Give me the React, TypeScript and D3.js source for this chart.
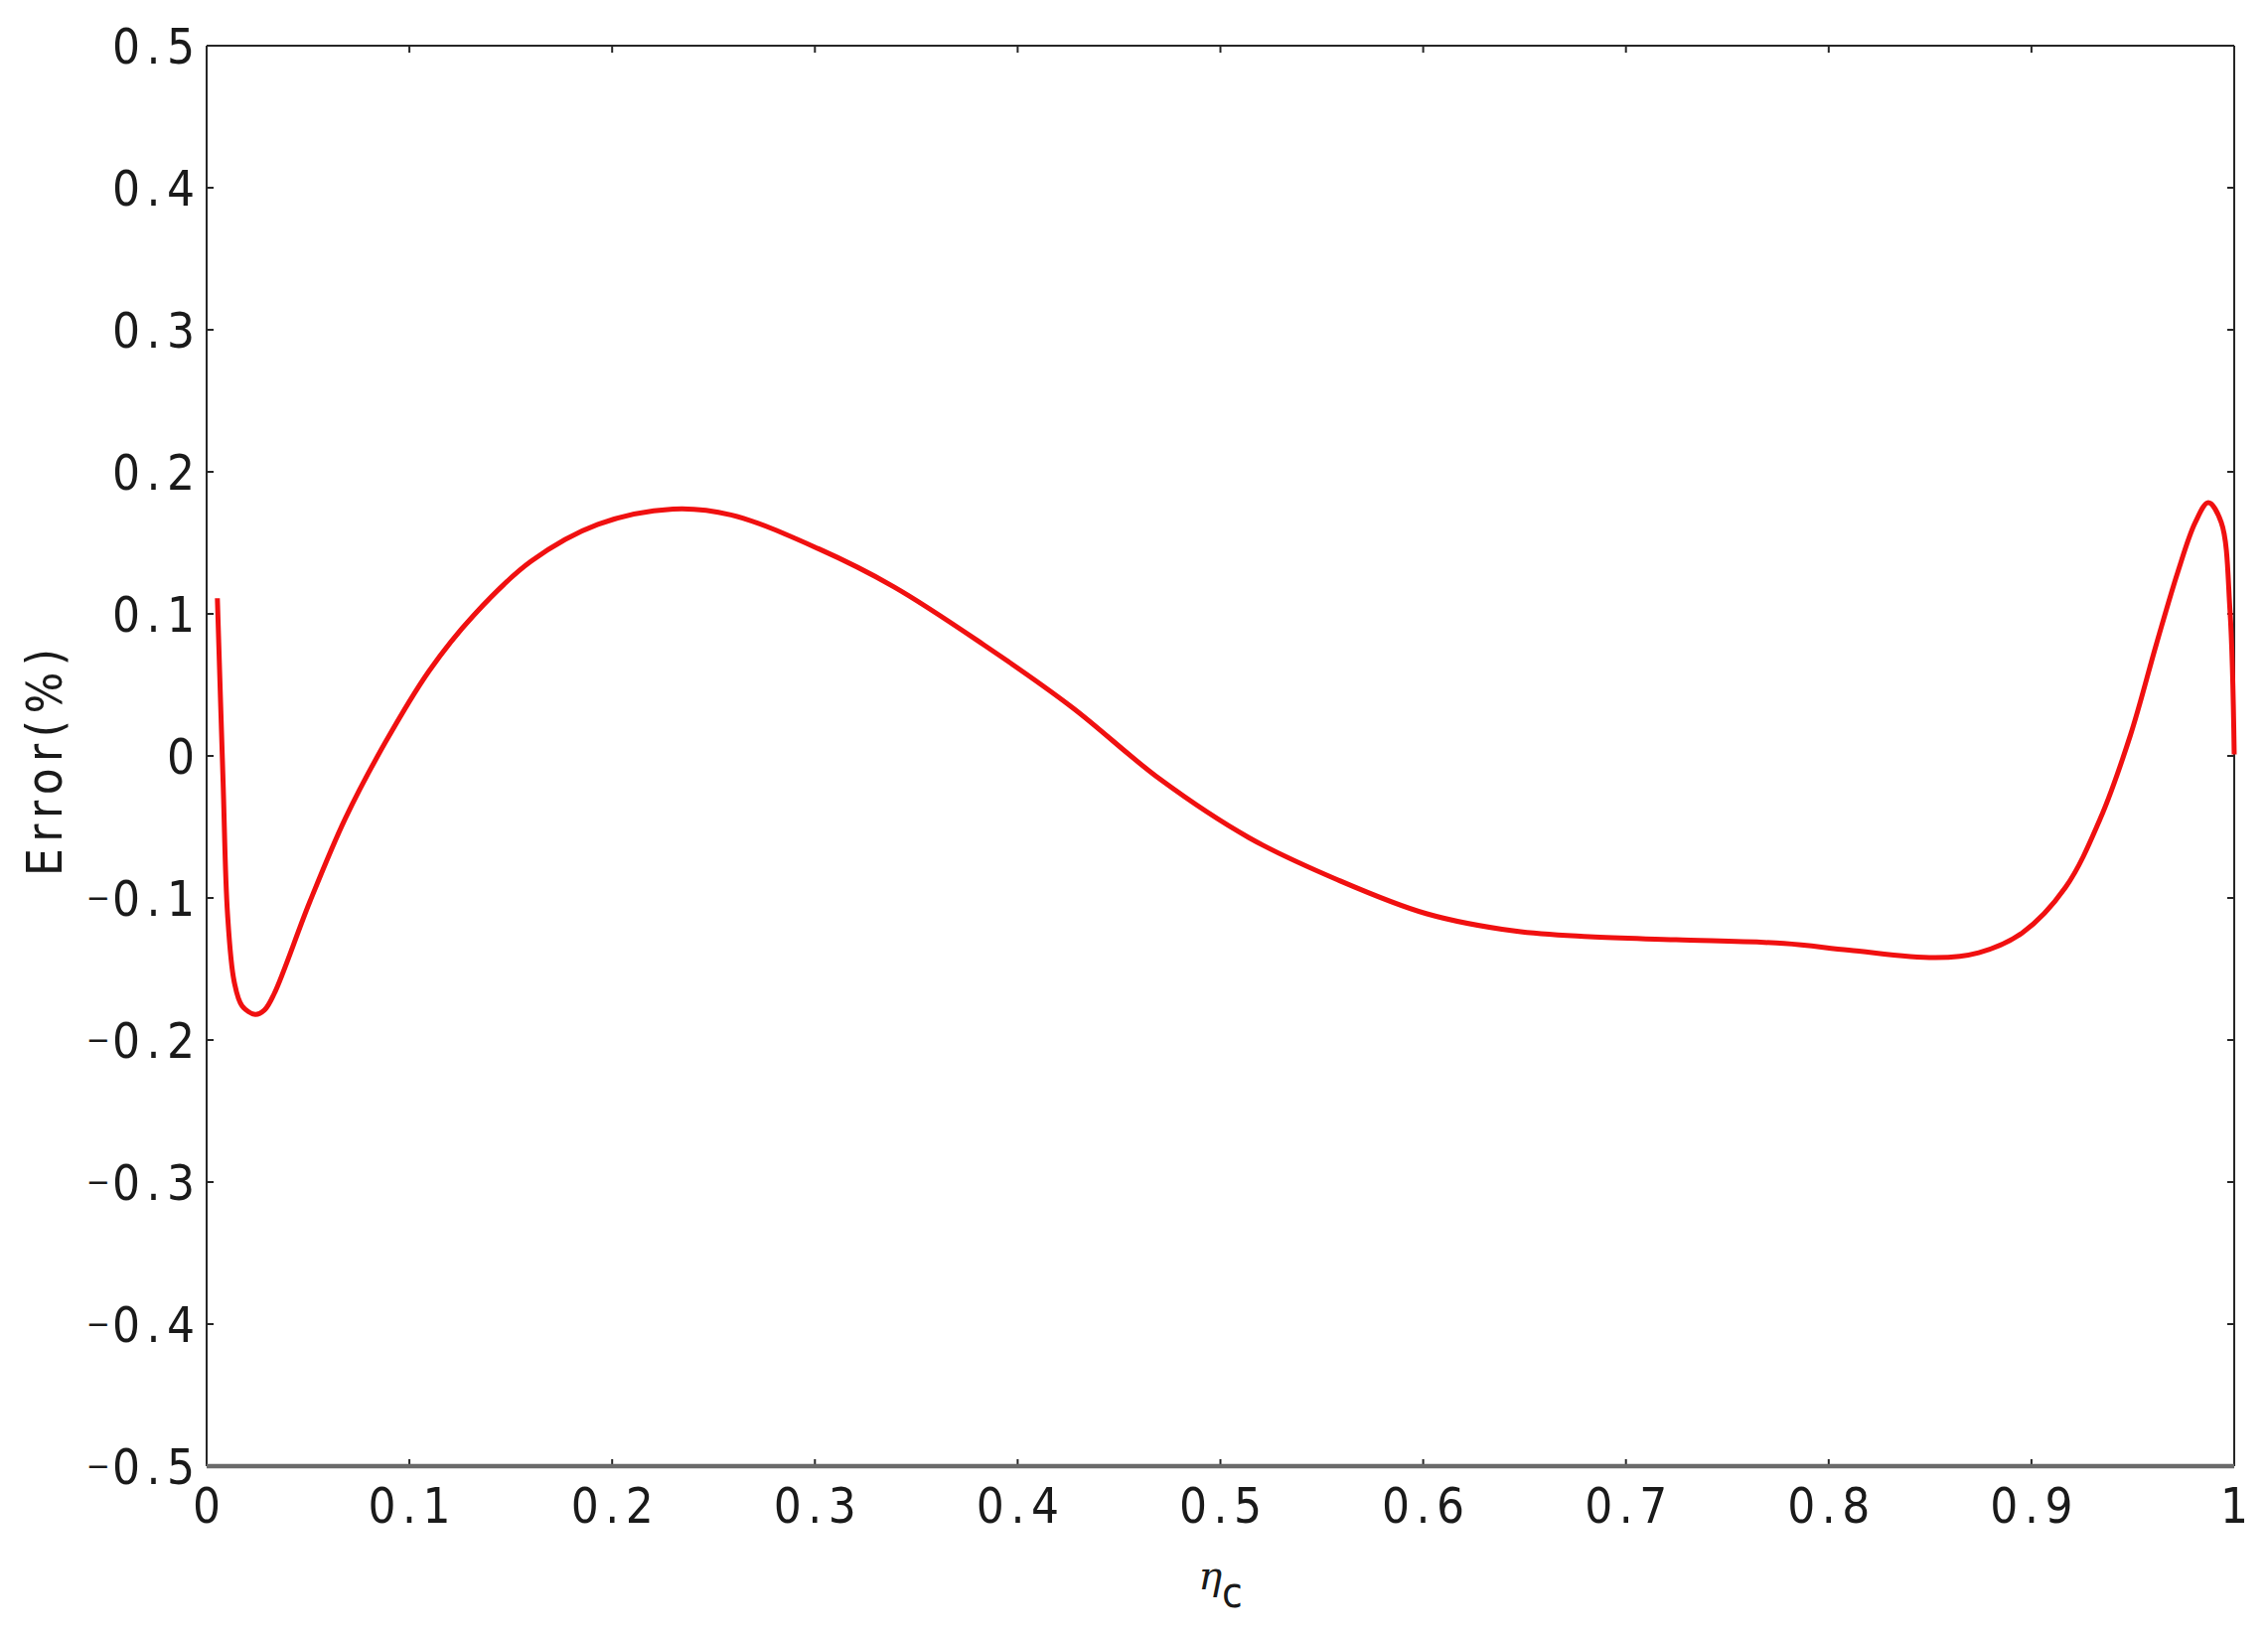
import React from "react";
import * as d3 from "d3";

const etaC = [0.0053, 0.0081, 0.0103, 0.0136, 0.0175, 0.024, 0.0285, 0.0333, 0.0508, 0.0683, 0.088, 0.1098, 0.1317, 0.16, 0.193, 0.23, 0.2586, 0.302, 0.339, 0.3828, 0.4266, 0.4703, 0.514, 0.5578, 0.6015, 0.6453, 0.682, 0.7247, 0.778, 0.81, 0.8527, 0.874, 0.8954, 0.9168, 0.9339, 0.9488, 0.9616, 0.9722, 0.9808, 0.9872, 0.9936, 0.9979, 1.0];
const errorPct = [0.111, -0.0175, -0.111, -0.159, -0.176, -0.182, -0.179, -0.1675, -0.103, -0.0443, 0.0092, 0.06, 0.099, 0.137, 0.163, 0.1738, 0.1697, 0.1457, 0.119, 0.0787, 0.0345, -0.0165, -0.0575, -0.0872, -0.111, -0.1233, -0.1273, -0.1294, -0.132, -0.1367, -0.142, -0.1385, -0.1246, -0.0925, -0.0443, 0.0146, 0.0787, 0.1296, 0.1644, 0.1783, 0.1644, 0.1028, 0.001];

const xTicks = [0, 0.1, 0.2, 0.3, 0.4, 0.5, 0.6, 0.7, 0.8, 0.9, 1];
const xTickLabels = ["0", "0.1", "0.2", "0.3", "0.4", "0.5", "0.6", "0.7", "0.8", "0.9", "1"];
const yTicks = [-0.5, -0.4, -0.3, -0.2, -0.1, 0, 0.1, 0.2, 0.3, 0.4, 0.5];
const yTickLabels = ["\u22120.5", "\u22120.4", "\u22120.3", "\u22120.2", "\u22120.1", "0", "0.1", "0.2", "0.3", "0.4", "0.5"];

const W = 2283;
const H = 1648;
const L = 208, R = 2249, T = 46, B = 1476;
const FONT = "'DejaVu Sans Condensed', 'DejaVu Sans', sans-serif";
const FS = 49;
const LS = 6.5;

function renderLabel(s: string) {
  if (s.startsWith("\u2212")) {
    return (
      <>
        <tspan fontSize={32} dy={-7} letterSpacing={2}>{"\u2212"}</tspan>
        <tspan dy={7}>{s.slice(1)}</tspan>
      </>
    );
  }
  return s;
}

export default function App() {
  const x = d3.scaleLinear().domain([0, 1]).range([L, R]);
  const y = d3.scaleLinear().domain([-0.5, 0.5]).range([B, T]);
  const pts: [number, number][] = etaC.map((v, i) => [v, errorPct[i]]);
  const line = d3
    .line<[number, number]>()
    .x((d) => x(d[0]))
    .y((d) => y(d[1]))
    .curve(d3.curveCatmullRom.alpha(0.5));
  const tickLen = 7;
  const dark = "#262626";
  return (
    <svg
      width={W}
      height={H}
      style={{ position: "absolute", left: 0, top: 0, background: "#fff" }}
      xmlns="http://www.w3.org/2000/svg"
    >
      <rect x={0} y={0} width={W} height={H} fill="#fff" />
      {xTicks.map((t, i) => (
        <g key={"xt" + i}>
          <line x1={x(t)} x2={x(t)} y1={B} y2={B - tickLen} stroke={dark} strokeWidth={2} />
          <line x1={x(t)} x2={x(t)} y1={T} y2={T + tickLen} stroke={dark} strokeWidth={2} />
        </g>
      ))}
      {yTicks.map((t, i) => (
        <g key={"yt" + i}>
          <line x1={L} x2={L + tickLen} y1={y(t)} y2={y(t)} stroke={dark} strokeWidth={2} />
          <line x1={R} x2={R - tickLen} y1={y(t)} y2={y(t)} stroke={dark} strokeWidth={2} />
        </g>
      ))}
      <line x1={L} x2={R} y1={T} y2={T} stroke={dark} strokeWidth={2} />
      <line x1={L} x2={L} y1={T} y2={B} stroke={dark} strokeWidth={2} />
      <line x1={R} x2={R} y1={T} y2={B} stroke={dark} strokeWidth={2} />
      <line x1={L} x2={R} y1={B} y2={B} stroke="#6a6a6a" strokeWidth={4.5} />
      <path d={line(pts) || ""} fill="none" stroke="#f01010" strokeWidth={5} strokeLinejoin="round" />
      {xTicks.map((t, i) => (
        <text
          key={"xl" + i}
          x={x(t) + LS / 2}
          y={1533}
          textAnchor="middle"
          fontFamily={FONT}
          fontSize={FS}
          letterSpacing={LS}
          fill="#1a1a1a"
        >
          {xTickLabels[i]}
        </text>
      ))}
      {yTicks.map((t, i) => (
        <text
          key={"yl" + i}
          x={196 + LS}
          y={y(t) + 18}
          textAnchor="end"
          fontFamily={FONT}
          fontSize={FS}
          letterSpacing={LS}
          fill="#1a1a1a"
        >
          {renderLabel(yTickLabels[i])}
        </text>
      ))}
      <text
        transform={`translate(62, ${(T + B) / 2 + LS / 2}) rotate(-90)`}
        textAnchor="middle"
        fontFamily={FONT}
        fontSize={FS}
        letterSpacing={LS}
        fill="#1a1a1a"
      >
        Error(%)
      </text>
      <text x={(L + R) / 2} y={1600} textAnchor="middle" fill="#1a1a1a">
        <tspan fontFamily="'DejaVu Serif', serif" fontStyle="italic" fontSize={40}>η</tspan>
        <tspan fontFamily={FONT} fontSize={42} dy={18}>c</tspan>
      </text>
    </svg>
  );
}
